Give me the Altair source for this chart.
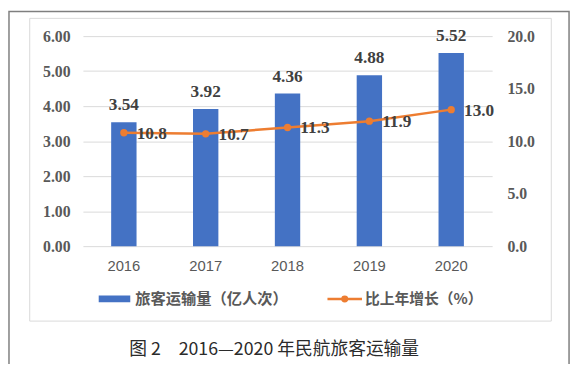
import altair as alt
import pandas as pd

years = ["2016", "2017", "2018", "2019", "2020"]
passengers = [3.54, 3.92, 4.36, 4.88, 5.52]
growth = [10.8, 10.7, 11.3, 11.9, 13.0]
left_ticks = [0, 1, 2, 3, 4, 5, 6]
right_ticks = [0, 5, 10, 15, 20]
legend_bar = "旅客运输量（亿人次）"
legend_line = "比上年增长（%）"
caption = "图 2　2016—2020 年民航旅客运输量"

BLUE = "#4472C4"
ORANGE = "#ED7D31"
GRID = "#d9d9d9"
AX = "#595959"
LBL = "#404040"
SERIF = "Liberation Serif"
CJK = "Noto Sans CJK SC"

df = pd.DataFrame({"year": years, "passengers": passengers, "growth": growth})

W, H = 415, 213

xenc = alt.X("year:N", title=None, sort=years,
             scale=alt.Scale(paddingInner=0.69, paddingOuter=0.345),
             axis=alt.Axis(labelAngle=0, domain=False, ticks=False, labelPadding=13,
                           labelFont="Liberation Sans", labelFontSize=15, labelColor=AX))

base = alt.Chart(df).encode(x=xenc)

left_axis = alt.Axis(values=left_ticks, tickCount=7, format=".2f", orient="left", domain=False,
                     ticks=False, grid=True, gridColor=GRID, gridWidth=1, labelPadding=13,
                     labelOverlap=False,
                     labelFont=SERIF, labelFontWeight="bold", labelFontSize=16, labelColor=AX)
yl = alt.Y("passengers:Q", title=None, scale=alt.Scale(domain=[0, 6], nice=False), axis=left_axis)

bars = base.mark_bar(color=BLUE).encode(y=yl)
bar_text = base.mark_text(baseline="bottom", dy=-8, font=SERIF, fontWeight="bold",
                          fontSize=17.5, color=LBL).encode(
    y=yl, text=alt.Text("passengers:Q", format=".2f"))

left = alt.layer(bars, bar_text)

right_axis = alt.Axis(values=right_ticks, format=".1f", orient="right", domain=False, ticks=False,
                      grid=False, labelPadding=15, labelOverlap=False,
                      labelFont=SERIF, labelFontWeight="bold", labelFontSize=16, labelColor=AX)
yr = alt.Y("growth:Q", title=None, scale=alt.Scale(domain=[0, 20], nice=False), axis=right_axis)
line = base.mark_line(color=ORANGE, strokeWidth=2.5).encode(y=yr)
pts = base.mark_circle(color=ORANGE, size=55, opacity=1).encode(y=yr)
line_text = base.mark_text(align="left", baseline="middle", dx=13, dy=1, font=SERIF,
                           fontWeight="bold", fontSize=17.5, color=LBL).encode(
    y=yr, text=alt.Text("growth:Q", format=".1f"))

right = alt.layer(line, pts, line_text)

one = alt.Data(values=[{"k": 1}])
outer = alt.Chart(one).mark_rect(fill=None, stroke="#7f7f7f", strokeWidth=1.5).encode(
    x=alt.value(-75), x2=alt.value(493), y=alt.value(-25), y2=alt.value(360))
inner = alt.Chart(one).mark_rect(fill=None, stroke=GRID, strokeWidth=1).encode(
    x=alt.value(-54), x2=alt.value(475), y=alt.value(-18), y2=alt.value(289))
leg_rect = alt.Chart(one).mark_rect(color=BLUE).encode(
    x=alt.value(16), x2=alt.value(48), y=alt.value(263), y2=alt.value(270))
leg_t1 = alt.Chart(one).mark_text(align="left", baseline="middle", font=CJK, fontSize=15.5,
                                  fontWeight="bold", color=AX).encode(
    x=alt.value(53), y=alt.value(267), text=alt.value(legend_bar))
leg_line = alt.Chart(one).mark_rule(color=ORANGE, strokeWidth=2.5).encode(
    x=alt.value(248), x2=alt.value(283), y=alt.value(266.5))
leg_pt = alt.Chart(one).mark_circle(color=ORANGE, size=50, opacity=1).encode(
    x=alt.value(265.5), y=alt.value(266.5))
leg_t2 = alt.Chart(one).mark_text(align="left", baseline="middle", font=CJK, fontSize=15,
                                  fontWeight="bold", color=AX).encode(
    x=alt.value(286), y=alt.value(267), text=alt.value(legend_line))
cap = alt.Chart(one).mark_text(align="center", baseline="middle", font=CJK, fontSize=18,
                               color="#2b2b2b").encode(
    x=alt.value(194), y=alt.value(318), text=alt.value(caption))

chart = alt.layer(outer, inner, left, right, leg_rect, leg_t1, leg_line, leg_pt, leg_t2, cap).resolve_scale(
    y="independent"
).properties(
    width=W, height=H,
    autosize=alt.AutoSizeParams(type="none"),
    padding={"left": 76, "top": 26, "right": 81, "bottom": 117},
    background="white",
).configure_view(stroke=None)

chart.save("out.html", embed_options={"renderer": "svg", "actions": False})
